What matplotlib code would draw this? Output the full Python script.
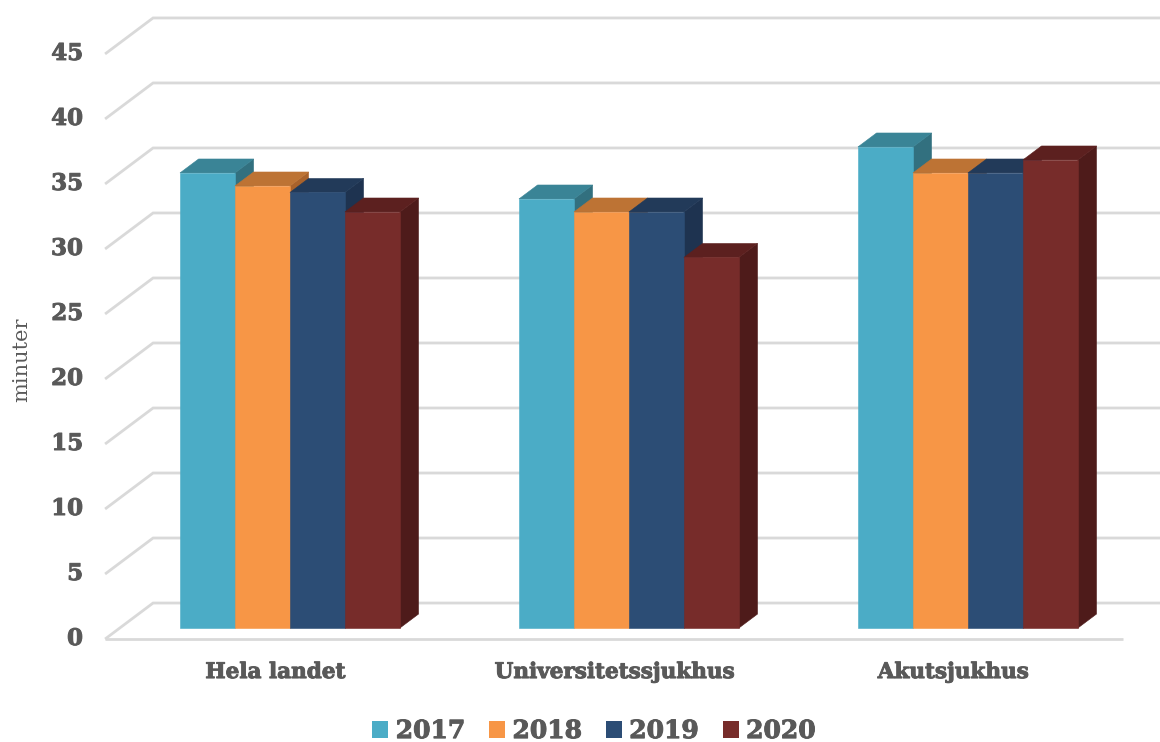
import matplotlib
matplotlib.use("Agg")
import matplotlib.pyplot as plt
import matplotlib.patheffects as pe
from matplotlib.patches import Polygon, Patch

# Data
categories = ["Hela landet", "Universitetssjukhus", "Akutsjukhus"]
years = ["2017", "2018", "2019", "2020"]
values_2017 = [35.0, 33.0, 37.0]
values_2018 = [34.0, 32.0, 35.0]
values_2019 = [33.5, 32.0, 35.0]
values_2020 = [32.0, 28.5, 36.0]
series = [values_2017, values_2018, values_2019, values_2020]
y_ticks = [0, 5, 10, 15, 20, 25, 30, 35, 40, 45]
y_label = "minuter"

# Face colours per series: front, top, side
front_colors = ["#4BACC6", "#F79646", "#2C4D75", "#772C2A"]
top_colors = ["#3A8496", "#BD7334", "#223A59", "#5C201F"]
side_colors = ["#32707F", "#A9622B", "#1E3350", "#4E1B1A"]

TEXT = "#595959"
GRID = "#D9D9D9"
SERIF = "DejaVu Serif"
HEAVY = [pe.withStroke(linewidth=0.7, foreground=TEXT)]

# Pseudo-3D geometry (x in category units, y in minutes)
BAR_W = 0.1622          # width of one bar
DEPTH_DX = 0.1416       # x shift across full floor depth
DEPTH_DY = 2.769        # y shift across full floor depth
F0, F1 = 0.306, 0.694   # bar front/back planes as fraction of depth
GRID_X0 = -0.502        # left (front) end of the floor
GRID_X1 = 2.500         # right (front) end of the floor


def proj(u, v, d):
    return (u + d * DEPTH_DX, v + d * DEPTH_DY)


fig = plt.figure(figsize=(11.6, 7.42), dpi=100)
ax = fig.add_axes([0, 0, 1, 1])
ax.set_xlim(-0.812, 2.610)
ax.set_ylim(-7.92, 49.15)
ax.axis("off")

# Walls: diagonal on the side wall and horizontal on the back wall
for t in y_ticks:
    xa, ya = proj(GRID_X0, t, 0)
    xb, yb = proj(GRID_X0, t, 1)
    xc, yc = proj(GRID_X1 + 0.3, t, 1)
    ax.plot([xa, xb, xc], [ya, yb, yc], color=GRID, lw=2.0,
            solid_capstyle="butt", solid_joinstyle="miter", zorder=1)
    ax.text(-0.567, t, str(t), ha="right", va="center", fontsize=16.5,
            fontweight="bold", color=TEXT, family=SERIF, path_effects=HEAVY)

# Front edge of the floor
xa, ya = proj(GRID_X0, 0, 0)
xb, yb = proj(GRID_X1, 0, 0)
ax.plot([xa, xb], [ya, yb], color=GRID, lw=2.0, solid_capstyle="butt", zorder=1)

# Bars
for i, cat in enumerate(categories):
    for j, vals in enumerate(series):
        v = vals[i]
        x0 = i + (j - 2) * BAR_W
        x1 = x0 + BAR_W
        front = [proj(x0, 0, F0), proj(x1, 0, F0), proj(x1, v, F0), proj(x0, v, F0)]
        top = [proj(x0, v, F0), proj(x1, v, F0), proj(x1, v, F1), proj(x0, v, F1)]
        side = [proj(x1, 0, F0), proj(x1, v, F0), proj(x1, v, F1), proj(x1, 0, F1)]
        z = 3 + j
        ax.add_patch(Polygon(side, closed=True, facecolor=side_colors[j],
                             edgecolor=side_colors[j], lw=0.4, zorder=z))
        ax.add_patch(Polygon(top, closed=True, facecolor=top_colors[j],
                             edgecolor=top_colors[j], lw=0.4, zorder=z))
        ax.add_patch(Polygon(front, closed=True, facecolor=front_colors[j],
                             edgecolor=front_colors[j], lw=0.4, zorder=z))
    ax.text(i, -2.54, cat, ha="center", va="center", fontsize=15.5,
            fontweight="bold", color=TEXT, family=SERIF, path_effects=HEAVY)

ax.text(-0.747, 21.5, y_label, rotation=90, ha="center", va="center",
        fontsize=15, color=TEXT, family=SERIF)

handles = [Patch(facecolor=c, edgecolor="none") for c in front_colors]
leg = ax.legend(handles, years, loc="center", bbox_to_anchor=(0.94, -7.08),
                bbox_transform=ax.transData, ncol=4, frameon=False,
                prop={"family": SERIF, "weight": "bold", "size": 18},
                handlelength=0.64, handleheight=0.64, handletextpad=0.3,
                columnspacing=0.95, borderpad=0, borderaxespad=0)
for txt in leg.get_texts():
    txt.set_color(TEXT)
    txt.set_path_effects(HEAVY)

fig.savefig("out.png", dpi=100, facecolor="white")
